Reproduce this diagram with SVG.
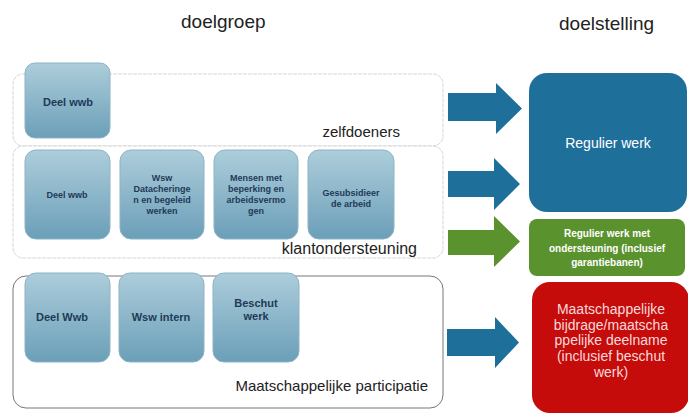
<svg xmlns="http://www.w3.org/2000/svg" width="688" height="414" viewBox="0 0 688 414">
<defs>
<linearGradient id="ng" x1="0" y1="0" x2="0" y2="1">
<stop offset="0" stop-color="#adcddb"/>
<stop offset="1" stop-color="#6b9fb8"/>
</linearGradient>
<style>
text{font-family:"Liberation Sans",Arial,sans-serif}
.title{font-size:19px;fill:#222}
.grp{fill:#fff;stroke:#d6d6d6;stroke-width:1}
.grp3{fill:#fff;stroke:#777;stroke-width:1}
.glab{font-size:15px;fill:#222;text-anchor:end}
.node{fill:url(#ng);stroke:#8db3c6;stroke-width:1}
.nt{font-size:9px;font-weight:bold;fill:#1e3a58;text-anchor:middle}
.nt2{font-size:11px;font-weight:bold;fill:#1e3a58;text-anchor:middle}
.blue{fill:#1f6f9b}
.green{fill:#5a922e}
.red{fill:#c60b0b}
.wt{fill:#fff;text-anchor:middle}
</style>
</defs>
<rect width="688" height="414" fill="#fff"/>
<text class="title" x="181" y="28">doelgroep</text>
<text class="title" x="559" y="30">doelstelling</text>

<g id="zelfdoeners">
<rect class="grp" x="13" y="74" width="430" height="72" rx="10" stroke-dasharray="4 1"/>
<text class="glab" x="400" y="137">zelfdoeners</text>
<g id="z-deelwwb">
<rect class="node" x="25" y="63" width="85" height="75" rx="10"/>
<text class="nt2" x="68" y="106">Deel wwb</text>
</g>
</g>

<g id="klantondersteuning">
<rect class="grp" x="13" y="146" width="430" height="112" rx="10" stroke-dasharray="4 1"/>
<text class="glab" x="417" y="254" style="font-size:16px">klantondersteuning</text>
<g id="k-deelwwb">
<rect class="node" x="25" y="150" width="85" height="89" rx="11"/>
<text class="nt" x="67" y="198">Deel wwb</text>
</g>
<g id="k-wsw">
<rect class="node" x="120" y="150" width="84" height="89" rx="11"/>
<text class="nt" x="162" y="181">Wsw</text>
<text class="nt" x="162" y="192">Datacheringe</text>
<text class="nt" x="162" y="203">n en begeleid</text>
<text class="nt" x="162" y="214">werken</text>
</g>
<g id="k-mensen">
<rect class="node" x="214" y="150" width="84" height="89" rx="11"/>
<text class="nt" x="256" y="181">Mensen met</text>
<text class="nt" x="256" y="192">beperking en</text>
<text class="nt" x="256" y="203">arbeidsvermo</text>
<text class="nt" x="256" y="214">gen</text>
</g>
<g id="k-gesubsidieerde">
<rect class="node" x="308" y="150" width="86" height="89" rx="11"/>
<text class="nt" x="351" y="196">Gesubsidieer</text>
<text class="nt" x="351" y="207">de arbeid</text>
</g>
</g>

<g id="maatschappelijke-participatie">
<rect class="grp3" x="13" y="276" width="430" height="132" rx="13"/>
<text class="glab" x="428" y="391">Maatschappelijke participatie</text>
<g id="m-deelwwb">
<rect class="node" x="25" y="273" width="85" height="89" rx="11"/>
<text class="nt2" x="62" y="321">Deel Wwb</text>
</g>
<g id="m-wsw">
<rect class="node" x="119" y="273" width="85" height="89" rx="11"/>
<text class="nt2" x="161" y="321">Wsw intern</text>
</g>
<g id="m-beschut">
<rect class="node" x="213" y="273" width="86" height="89" rx="11"/>
<text class="nt2" x="256" y="307">Beschut</text>
<text class="nt2" x="256" y="320">werk</text>
</g>
</g>

<g id="regulier-werk">
<rect class="blue" x="529" y="73" width="158" height="139" rx="18"/>
<text class="wt" x="608" y="148" style="font-size:14px">Regulier werk</text>
</g>
<g id="regulier-werk-ondersteuning">
<rect class="green" x="529" y="219" width="156" height="57" rx="8"/>
<text class="wt" x="607" y="237" style="font-size:10px;font-weight:bold">Regulier werk met</text>
<text class="wt" x="607" y="252" style="font-size:10px;font-weight:bold">ondersteuning (inclusief</text>
<text class="wt" x="607" y="266" style="font-size:10px;font-weight:bold">garantiebanen)</text>
</g>
<g id="maatschappelijke-bijdrage">
<rect class="red" x="532" y="282" width="157" height="131" rx="18"/>
<g style="font-size:14px;fill:#f7dada;text-anchor:middle">
<text x="611" y="314">Maatschappelijke</text>
<text x="611" y="330">bijdrage/maatscha</text>
<text x="611" y="345">ppelijke deelname</text>
<text x="611" y="361">(inclusief beschut</text>
<text x="611" y="377">werk)</text>
</g>
</g>

<g id="connectors">
<polygon class="blue" points="448,93 496,93 496,83 522,108.5 496,134 496,121 448,121"/>
<polygon class="blue" points="448,171 494,171 494,158 520,184 494,210 494,197 448,197"/>
<polygon class="green" points="448,230 494,230 494,216 520,241.5 494,267 494,255 448,255"/>
<polygon class="blue" points="447,329 495,329 495,317 519,342.5 495,368 495,356 447,356"/>
</g>
</svg>
